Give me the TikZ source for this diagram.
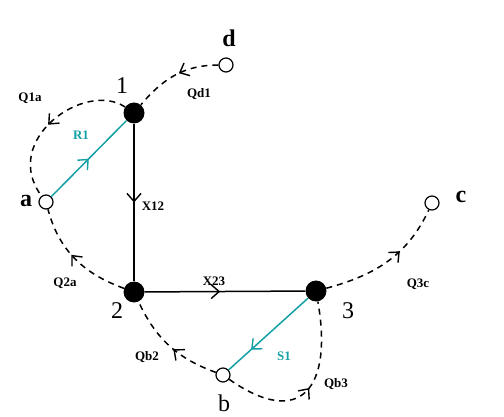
\documentclass[tikz,border=0pt]{standalone}
\usepackage{fontspec}
\setmainfont{Liberation Serif}
\usepackage{tikz}
\usetikzlibrary{arrows.meta,decorations.markings,positioning}

\definecolor{teal}{RGB}{20,160,165}

\begin{document}
\begin{tikzpicture}[x=1pt,y=-1pt]
		\tikzstyle{junction} = [circle, fill=black, minimum size=21pt, inner sep=0pt]
		\tikzstyle{terminal} = [circle, draw=black, line width=1.2pt, fill=white, minimum size=14pt, inner sep=0pt]
		\tikzstyle{biglabel} = [font=\fontsize{24}{24}\selectfont, inner sep=0pt]
		\tikzstyle{smalllabel} = [font=\fontsize{13}{13}\selectfont\bfseries, inner sep=0pt]
		\tikzstyle{midarrow} = [postaction={decorate}, decoration={markings,
		mark=at position #1 with {\arrow{Straight Barb[length=8pt,width=14pt,line width=1.4pt]}}}]
		\tikzstyle{link} = [line width=1.5pt, midarrow=#1]
		\tikzstyle{flow} = [line width=1.5pt, dash pattern=on 6pt off 5pt, midarrow=#1]
		\useasboundingbox (0,0) rectangle (504,417);
		% nodes
		\node (n1) [junction] at (134,113) {};
		\node (n2) [junction] at (134,292) {};
		\node (n3) [junction] at (316,291) {};
		\node (a) [terminal] at (46,202) {};
		\node (b) [terminal] at (223,375) {};
		\node (c) [terminal] at (432,203) {};
		\node (d) [terminal] at (226,65) {};
		% node labels
		\node (lab1) [biglabel] at (122,86) {1};
		\node (lab2) [biglabel] at (117,311) {2};
		\node (lab3) [biglabel] at (348,311) {3};
		\node (laba) [biglabel] at (26,201) {\bfseries a};
		\node (labb) [biglabel] at (224,403) {b};
		\node (labc) [biglabel] at (461,197) {\bfseries c};
		\node (labd) [biglabel] at (229,38) {\bfseries d};
		% flow labels
		\node (q1a) [smalllabel] at (30,98) {Q1a};
		\node (qd1) [smalllabel] at (199,94) {Qd1};
		\node (x12) [smalllabel] at (153,206) {X12};
		\node (q2a) [smalllabel] at (65,283) {Q2a};
		\node (x23) [smalllabel] at (214,281) {X23};
		\node (qb2) [smalllabel] at (147,357) {Qb2};
		\node (qb3) [smalllabel] at (336,384) {Qb3};
		\node (q3c) [smalllabel] at (418,284) {Q3c};
		\node (r1) [smalllabel, text=teal] at (81,135) {R1};
		\node (s1) [smalllabel, text=teal] at (284,356) {S1};
		% connectors
		\draw [link=0.5] (n1) -- (n2);
		\draw [link=0.47] (n2) -- (n3);
		\draw [link=0.5, teal] (a) -- (n1);
		\draw [link=0.72, teal] (n3) -- (b);
		\draw [flow=0.45] (d) to[out=180, in=50] (n1);
		\draw [flow=0.52] (n1) .. controls (85,80) and (0,140) .. (a);
		\draw [flow=0.55] (n2) to[out=160, in=-75] (a);
		\draw [flow=0.45] (b) to[out=160, in=-65] (n2);
		\draw [flow=0.5] (b) to[out=-35, in=-80, looseness=1.9] (n3);
		\draw [flow=0.62] (n3) to[out=15, in=-115] (c);
\end{tikzpicture}
\end{document}
